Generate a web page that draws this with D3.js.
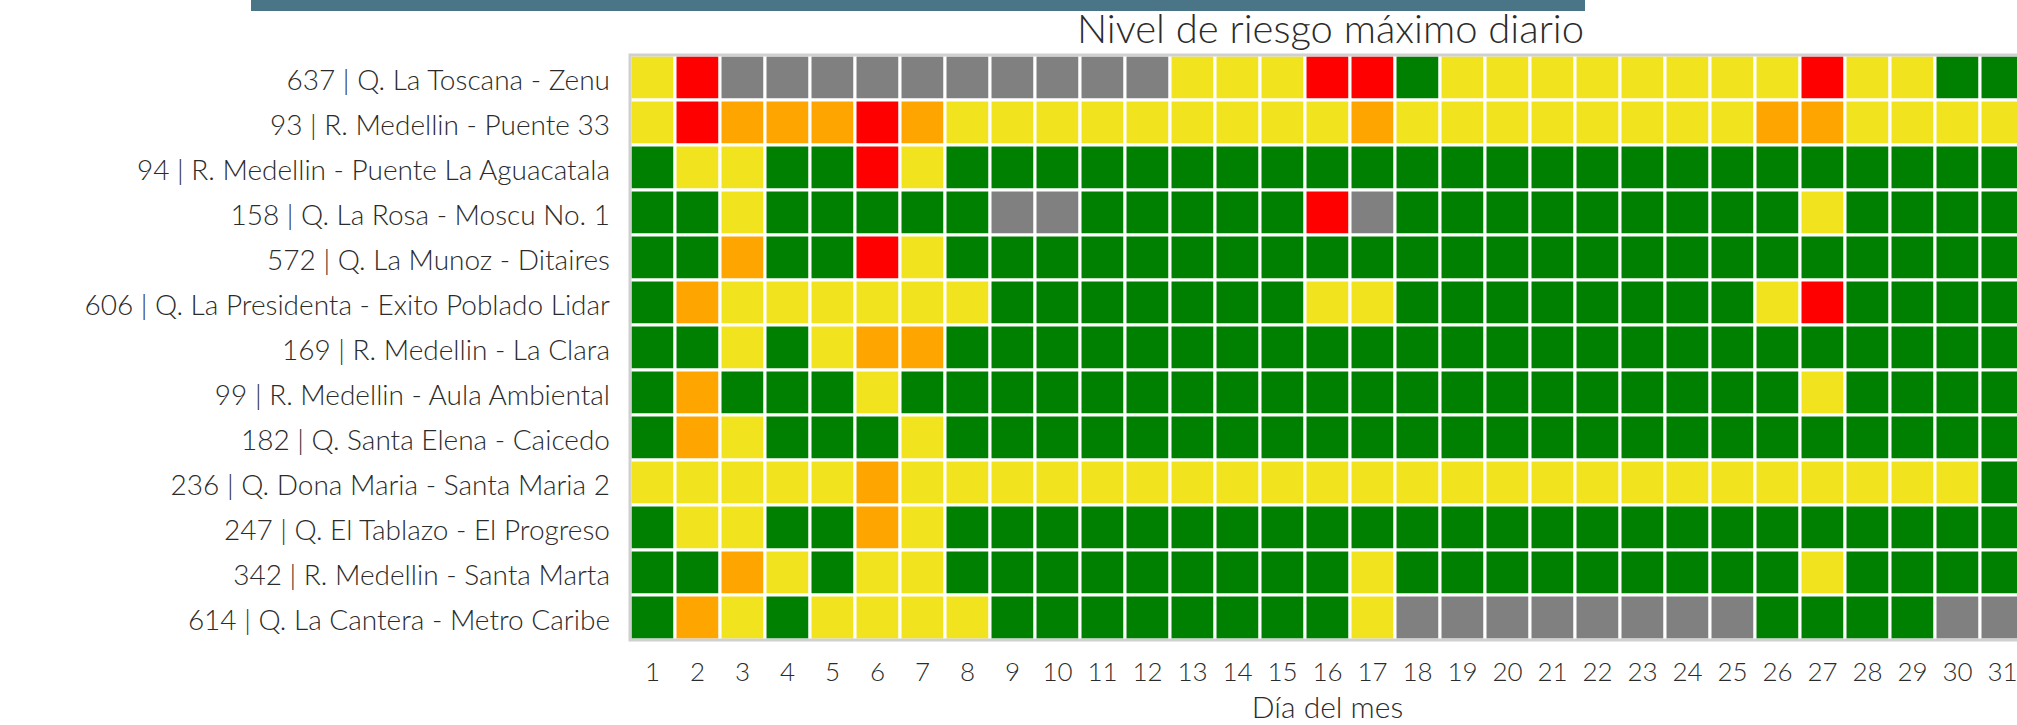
<!DOCTYPE html>
<html>
  <script src='https://d3js.org/d3.v7.min.js'></script>
  <body onload='init()' style='margin:0; background:#ffffff;'>
<script>
      // ---------------------------
      // DATA
      // ---------------------------
      var stations = [
        "637 | Q. La Toscana - Zenu",
        "93 | R. Medellin - Puente 33",
        "94 | R. Medellin - Puente La Aguacatala",
        "158 | Q. La Rosa - Moscu No. 1",
        "572 | Q. La Munoz - Ditaires",
        "606 | Q. La Presidenta - Exito Poblado Lidar",
        "169 | R. Medellin - La Clara",
        "99 | R. Medellin - Aula Ambiental",
        "182 | Q. Santa Elena - Caicedo",
        "236 | Q. Dona Maria - Santa Maria 2",
        "247 | Q. El Tablazo - El Progreso",
        "342 | R. Medellin - Santa Marta",
        "614 | Q. La Cantera - Metro Caribe"
      ];

      var days = [1,2,3,4,5,6,7,8,9,10,11,12,13,14,15,16,17,18,19,20,21,22,23,24,25,26,27,28,29,30,31];

      // nivel: 0 sin dato, 1 verde, 2 amarillo, 3 naranja, 4 rojo
      var levels = [
        [2,4,0,0,0,0,0,0,0,0,0,0,2,2,2,4,4,1,2,2,2,2,2,2,2,2,4,2,2,1,1],
        [2,4,3,3,3,4,3,2,2,2,2,2,2,2,2,2,3,2,2,2,2,2,2,2,2,3,3,2,2,2,2],
        [1,2,2,1,1,4,2,1,1,1,1,1,1,1,1,1,1,1,1,1,1,1,1,1,1,1,1,1,1,1,1],
        [1,1,2,1,1,1,1,1,0,0,1,1,1,1,1,4,0,1,1,1,1,1,1,1,1,1,2,1,1,1,1],
        [1,1,3,1,1,4,2,1,1,1,1,1,1,1,1,1,1,1,1,1,1,1,1,1,1,1,1,1,1,1,1],
        [1,3,2,2,2,2,2,2,1,1,1,1,1,1,1,2,2,1,1,1,1,1,1,1,1,2,4,1,1,1,1],
        [1,1,2,1,2,3,3,1,1,1,1,1,1,1,1,1,1,1,1,1,1,1,1,1,1,1,1,1,1,1,1],
        [1,3,1,1,1,2,1,1,1,1,1,1,1,1,1,1,1,1,1,1,1,1,1,1,1,1,2,1,1,1,1],
        [1,3,2,1,1,1,2,1,1,1,1,1,1,1,1,1,1,1,1,1,1,1,1,1,1,1,1,1,1,1,1],
        [2,2,2,2,2,3,2,2,2,2,2,2,2,2,2,2,2,2,2,2,2,2,2,2,2,2,2,2,2,2,1],
        [1,2,2,1,1,3,2,1,1,1,1,1,1,1,1,1,1,1,1,1,1,1,1,1,1,1,1,1,1,1,1],
        [1,1,3,2,1,2,2,1,1,1,1,1,1,1,1,1,2,1,1,1,1,1,1,1,1,1,2,1,1,1,1],
        [1,3,2,1,2,2,2,2,1,1,1,1,1,1,1,1,2,0,0,0,0,0,0,0,0,1,1,1,1,0,0]
      ];

      var levelCodes = [0, 1, 2, 3, 4];
      var levelColours = ["#808080", "#008000", "#f1e41f", "#ffa500", "#ff0000"];

      var chartTitle = "Nivel de riesgo máximo diario";
      var xAxisTitle = "Día del mes";

      function init() {

        // ---------------------------
        // CONSTANTS
        // ---------------------------
        var canvasWidth = 2017;
        var canvasHeight = 725;
        var gridLeft = 630;
        var gridTop = 55;
        var cellSize = 45;
        var myFont = "Lato, 'Open Sans', sans-serif";
        var textColour = "#2b2b2b";

        // flatten rows into cells
        var cells = [];
        stations.forEach(function(st, i) {
          days.forEach(function(day, j) {
            cells.push({station: st, day: day, level: levels[i][j]});
          });
        });

        var svg = d3.select("body")
          .append("svg")
          .attr("id", "heatmap")
          .attr("width", canvasWidth)
          .attr("height", canvasHeight)
          .style("display", "block");

        // ---------------------------
        // SCALES
        // ---------------------------
        var x_scale = d3.scaleBand()
          .domain(days)
          .range([gridLeft, gridLeft + cellSize * days.length]);
        var y_scale = d3.scaleBand()
          .domain(stations)
          .range([gridTop, gridTop + cellSize * stations.length]);
        var colour_scale = d3.scaleOrdinal()
          .domain(levelCodes)
          .range(levelColours);

        // header band
        svg.append("rect")
          .attr("x", 251)
          .attr("y", 0)
          .attr("width", 1334)
          .attr("height", 11)
          .style("fill", "#4a7586");

        // title
        svg.append("text")
          .attr("text-anchor", "end")
          .attr("x", 1584)
          .attr("y", 43)
          .attr("font-size", 40)
          .attr("font-weight", 300)
          .attr("font-family", myFont)
          .attr("fill", textColour)
          .text(chartTitle);

        // ---------------------------
        // CELLS
        // ---------------------------
        svg.append("g")
          .attr("id", "cells")
          .selectAll("rect")
          .data(cells)
          .enter()
          .append("rect")
          .attr("x", function(d) { return x_scale(d.day); })
          .attr("y", function(d) { return y_scale(d.station); })
          .attr("width", x_scale.bandwidth())
          .attr("height", y_scale.bandwidth())
          .style("fill", function(d) { return colour_scale(d.level); })
          .style("stroke", "#ffffff")
          .style("stroke-width", 3);

        // frame
        svg.append("rect")
          .attr("x", gridLeft)
          .attr("y", gridTop)
          .attr("width", cellSize * days.length)
          .attr("height", cellSize * stations.length)
          .style("fill", "none")
          .style("stroke", "#d0d0d0")
          .style("stroke-width", 3);

        // ---------------------------
        // AXES
        // ---------------------------
        var yAxis = svg.append("g")
          .attr("transform", "translate(" + 610 + ",0)")
          .call(d3.axisLeft(y_scale).tickSize(0).tickPadding(0));
        yAxis.select(".domain").remove();
        yAxis.selectAll("text")
          .attr("dy", 12)
          .attr("font-size", 28)
          .attr("font-weight", 300)
          .attr("font-family", myFont)
          .attr("fill", textColour);

        var xAxis = svg.append("g")
          .attr("transform", "translate(0," + 681 + ")")
          .call(d3.axisBottom(x_scale).tickSize(0).tickPadding(0));
        xAxis.select(".domain").remove();
        xAxis.selectAll("text")
          .attr("dy", 0)
          .attr("font-size", 26)
          .attr("font-weight", 300)
          .attr("font-family", myFont)
          .attr("fill", textColour);

        // x-axis title
        svg.append("text")
          .attr("text-anchor", "middle")
          .attr("x", gridLeft + cellSize * days.length / 2)
          .attr("y", 718)
          .attr("font-size", 30)
          .attr("font-weight", 300)
          .attr("font-family", myFont)
          .attr("fill", textColour)
          .text(xAxisTitle);
      }
    </script>
  </body>
</html>
